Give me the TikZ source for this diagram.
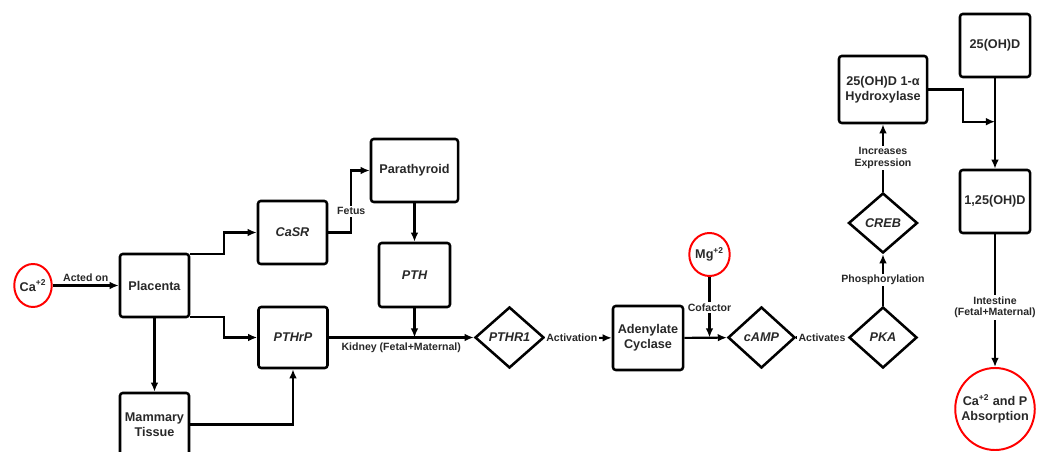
\documentclass[tikz,border=0pt]{standalone}
\usepackage{fontspec}
\setmainfont{Liberation Sans}
\usepackage{tikz}
\usetikzlibrary{arrows.meta,shapes.geometric,calc}
\definecolor{ink}{RGB}{40,40,40}

\begin{document}
\begin{tikzpicture}[x=0.025cm,y=-0.025cm,
	every node/.style={text=ink},
	box/.style={draw=black, line width=1.8pt, rounded corners=2pt, align=center,
		minimum width=1.725cm, minimum height=1.575cm, inner sep=1pt,
		font=\bfseries\fontsize{9}{10.5}\selectfont},
	dia/.style={draw=black, diamond, line width=1.8pt, inner sep=0pt,
		minimum width=1.725cm, minimum height=1.525cm,
		font=\bfseries\itshape\fontsize{9}{10.5}\selectfont},
	ion/.style={draw=red, ellipse, line width=1.4pt, inner sep=0pt, align=center,
		font=\bfseries\fontsize{9}{10.5}\selectfont},
	arr/.style={line width=1.5pt, -{Latex[length=6.5pt,width=5.5pt]}},
	lbl/.style={font=\bfseries\fontsize{7.5}{8.5}\selectfont, inner sep=1pt, align=center},
	onln/.style={lbl, fill=white}]

	\clip (0,0) rectangle (1046,452);

	% ions
	\node[ion, minimum width=0.9cm, minimum height=1.075cm] (Ca) at (33,285.5) {Ca\textsuperscript{+2}};
	\node[ion, minimum width=0.875cm, minimum height=1.075cm] (Mg) at (709.5,254.5) {Mg\textsuperscript{+2}};
	\node[ion, inner sep=-4pt, minimum width=1.9cm, minimum height=2.05cm] (Absorb) at (995,409) {Ca\textsuperscript{+2} and P\\Absorption};

	% boxes
	\node[box] (Placenta) at (154.5,285.5) {Placenta};
	\node[box] (Mammary) at (154.5,424.5) {Mammary\\Tissue};
	\node[box, font=\bfseries\itshape\fontsize{9}{10.5}\selectfont] (CaSR) at (292.5,232.5) {CaSR};
	\node[box, minimum height=1.525cm, font=\bfseries\itshape\fontsize{9}{10.5}\selectfont] (PTHrP) at (293,337.5) {PTHrP};
	\node[box, minimum width=2.175cm] (Parathyroid) at (414.5,170.5) {Parathyroid};
	\node[box, minimum width=1.775cm, minimum height=1.6cm, font=\bfseries\itshape\fontsize{9}{10.5}\selectfont] (PTH) at (414.5,275) {PTH};
	\node[box, minimum width=1.75cm, minimum height=1.6cm] (Adenylate) at (648,338) {Adenylate\\Cyclase};
	\node[box, minimum width=2.2cm, minimum height=1.675cm] (Hydrox) at (883,89.5) {25(OH)D 1-α\\Hydroxylase};
	\node[box, minimum width=1.75cm] (OHD) at (995,45.5) {25(OH)D};
	\node[box, minimum width=1.75cm] (DiOHD) at (995,201.5) {1,25(OH)D};

	% diamonds
	\node[dia] (PTHRone) at (509.5,337.5) {PTHR1};
	\node[dia, minimum width=1.675cm] (cAMP) at (761.5,337.5) {cAMP};
	\node[dia, minimum width=1.7cm] (PKA) at (883,337.5) {PKA};
	\node[dia, minimum height=1.5cm] (CREB) at (883,223) {CREB};

	\coordinate (join) at ($(OHD.south)!0.48!(DiOHD.north)$);

	% connectors
	\draw[arr] (Ca) -- node[lbl, above=1pt] {Acted on} (Placenta);
	\draw[arr] ([yshift=-1pt]Placenta.north east) -- ++(34,0) |- (CaSR.west);
	\draw[arr] ([yshift=1pt]Placenta.south east) -- ++(34,0) |- (PTHrP.west);
	\draw[arr] (Placenta) -- (Mammary);
	\draw[arr] (Mammary.east) -| (PTHrP.south);
	\draw[arr] (CaSR.east) -- ++(23,0) |- node[onln, pos=0.17] {Fetus} (Parathyroid.west);
	\draw[arr] (Parathyroid) -- (PTH);
	\draw[arr] (PTHrP) -- node[lbl, below=2pt] {Kidney (Fetal+Maternal)} (PTHRone);
	\draw[arr] (PTH.south) -- (PTH.south |- PTHrP.east);
	\draw[arr] (PTHRone) -- node[onln, pos=0.4] {Activation} (Adenylate);
	\draw[arr] (Adenylate) -- (cAMP);
	\draw[arr] (Mg) -- node[onln] {Cofactor} (Mg.south |- cAMP.west);
	\draw[arr] (cAMP) -- node[onln] {Activates} (PKA);
	\draw[arr] (PKA) -- node[onln] {Phosphorylation} (CREB);
	\draw[arr] (CREB) -- node[onln] {Increases\\Expression} (Hydrox);
	\draw[arr] (OHD) -- (DiOHD);
	\draw[arr] (Hydrox.east) -- ++(35,0) |- (join);
	\draw[arr] (DiOHD) -- node[onln, pos=0.55] {Intestine\\(Fetal+Maternal)} (Absorb);

\end{tikzpicture}
\end{document}
